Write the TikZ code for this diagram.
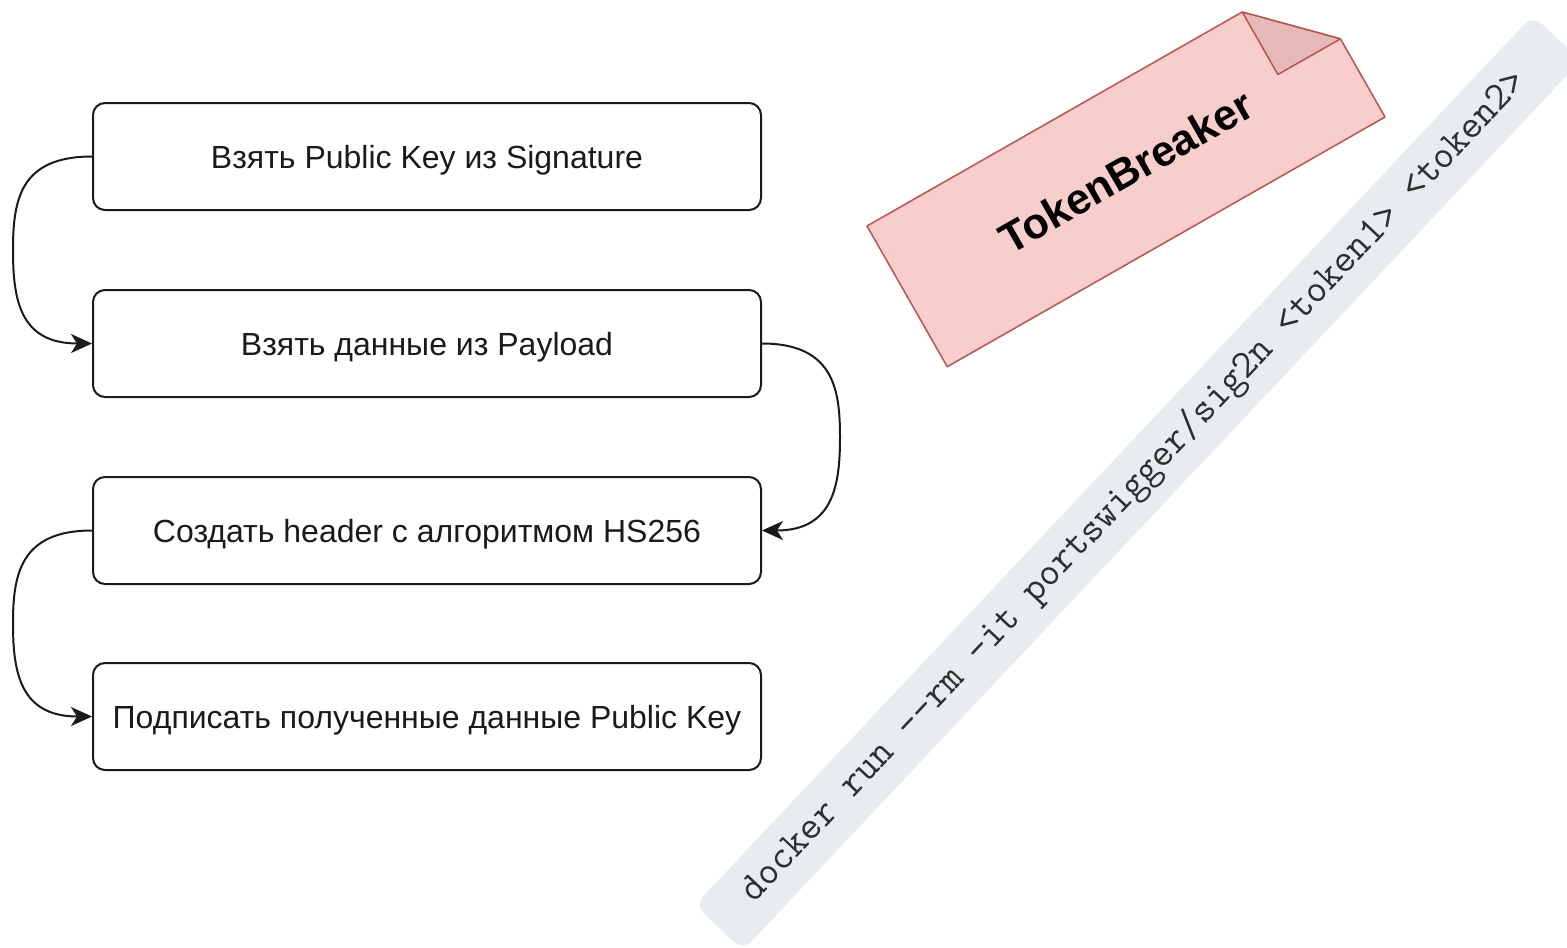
\documentclass[tikz,border=0pt]{standalone}
\usepackage{fontspec}
\setmainfont{Liberation Sans}
\usetikzlibrary{arrows.meta}
\definecolor{notefill}{HTML}{F8CECC}
\definecolor{noteline}{HTML}{B85450}
\definecolor{notefold}{HTML}{E6B9B8}
\definecolor{stripfill}{HTML}{E7ECEF}
\definecolor{cmdink}{HTML}{2E2E2E}
\definecolor{ink}{HTML}{1A1A1A}

\begin{document}
\begin{tikzpicture}[x=1pt,y=-1pt,
  stepbox/.style={draw=ink, line width=2pt, rounded corners=12pt,
    minimum width=668pt, minimum height=107pt, inner sep=0pt,
    text height=28.8pt, text depth=5.8pt,
    font=\fontsize{32}{38}\selectfont, text=ink},
  flow/.style={draw=ink, line width=2pt,
    -{Stealth[length=21pt,width=19pt,inset=6pt]}},
  notebody/.style={draw=noteline, fill=notefill, line width=1.5pt, line join=round},
  notefoldpart/.style={draw=noteline, fill=notefold, line width=1.5pt, line join=round},
]
\useasboundingbox (0,0) rectangle (1567,948);

% command strip
\begin{scope}[shift={(695,905)}, rotate=46.72]
  \fill[stripfill, rounded corners=12pt] (0,0) rectangle (1222,66);
  \node[rotate=46.72, font=\ttfamily\fontsize{39.8}{46}\selectfont, text=cmdink, inner sep=0pt]
    (cmd) at (606,33) {docker run -{}-rm -it portswigger/sig2n <token1> <token2>};
\end{scope}

% tool note with folded corner
\begin{scope}[shift={(867,226)}, rotate=29.7]
  \draw[notebody] (0,0) -- (432,0) -- (504,72) -- (504,162) -- (0,162) -- cycle;
  \draw[notefoldpart] (432,0) -- (432,72) -- (504,72) -- cycle;
  \node[rotate=29.7, font=\bfseries\fontsize{43}{50}\selectfont, text=black]
    (tool) at (252,81) {TokenBreaker};
\end{scope}

% steps
\node[stepbox] (s1) at (427,156.5) {Взять Public Key из Signature};
\node[stepbox] (s2) at (427,343.5) {Взять данные из Payload};
\node[stepbox] (s3) at (427,530.5) {Создать header с алгоритмом HS256};
\node[stepbox] (s4) at (427,716.5) {Подписать полученные данные Public Key};

% connectors
\draw[flow] (s1.west) .. controls (20,156.5) and (13,200) .. (13,250)
  .. controls (13,300) and (20,343.5) .. (s2.west);
\draw[flow] (s2.east) .. controls (834,343.5) and (840,390) .. (840,437)
  .. controls (840,484) and (834,530.5) .. (s3.east);
\draw[flow] (s3.west) .. controls (20,530.5) and (13,575) .. (13,623.5)
  .. controls (13,672) and (20,716.5) .. (s4.west);
\end{tikzpicture}
\end{document}
